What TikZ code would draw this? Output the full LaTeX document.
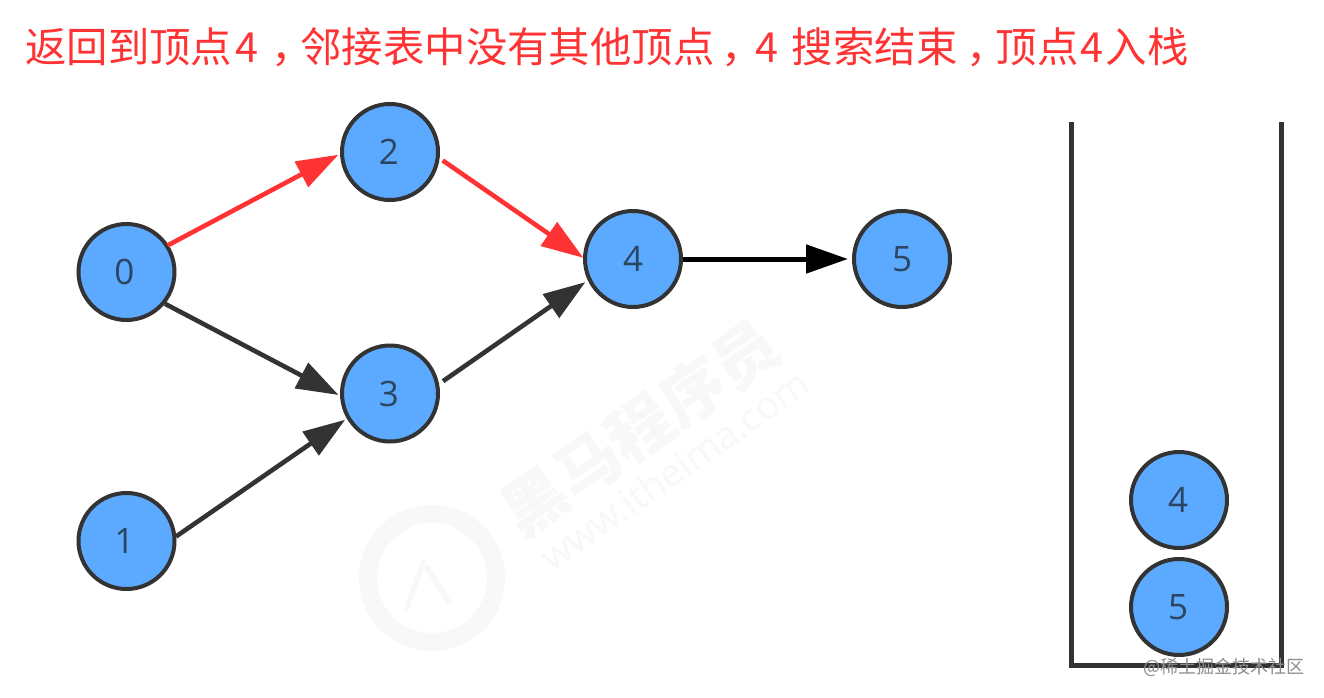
\documentclass[tikz,border=0pt]{standalone}
\usepackage{fontspec}
\setmainfont{Open Sans}
\newfontfamily\cjk{Noto Sans CJK SC}
\usetikzlibrary{arrows.meta}
\definecolor{nodeblue}{HTML}{5BAAFF}
\definecolor{digit}{HTML}{2C4560}
\definecolor{edgedark}{HTML}{333333}
\definecolor{edgered}{HTML}{FF3333}
\definecolor{wm}{HTML}{F8F8F8}
\tikzset{
  vertex/.style={circle,draw=edgedark,line width=4pt,fill=nodeblue,minimum size=96pt,inner sep=0pt,outer sep=0pt,text=digit,font=\fontsize{35}{35}\selectfont},
  edgeline/.style={line width=4.6pt,draw=edgedark,-{Triangle[length=42pt,width=28pt]}},
  rededge/.style={edgeline,draw=edgered},
  blackedge/.style={edgeline,draw=black,line width=5pt},
  stackwall/.style={line width=5pt,draw=edgedark,line cap=rect},
  titletext/.style={anchor=west,inner sep=0pt,text=edgered,font=\cjk\fontsize{41.4}{42}\selectfont},
  watermark/.style={inner sep=0pt,text=wm,rotate=35},
  credit/.style={anchor=west,inner sep=0pt,text=black!45,font=\cjk\fontsize{18}{18}\selectfont}
}
\begin{document}
\begin{tikzpicture}[x=1pt,y=-1pt]
\useasboundingbox (0,0) rectangle (1324,698);
\fill[white] (0,0) rectangle (1324,698);
% watermark
\node[watermark,font=\cjk\bfseries\fontsize{64}{64}\selectfont] (wmcn) at (640,428) {黑马程序员};
\node[watermark,font=\fontsize{38}{38}\selectfont] (wmurl) at (674,470) {www.itheima.com};
\node[circle,draw=wm,line width=18pt,minimum size=128pt,inner sep=0pt] (wmlogo) at (432,578) {};
\draw[wm,line width=5pt] (wmlogo.center) ++(-8,-18) -- ++(-18,50);
\draw[wm,line width=5pt] (wmlogo.center) ++(-6,-12) -- ++(24,38);
% title
\node[titletext] (title) at (25,47) {返回到顶点\hspace{3pt}4\hspace{13pt}，\hspace{-12pt}邻接表中没有其他顶点\hspace{7pt}，\hspace{-7pt}4\hspace{13pt}搜索结束\hspace{9pt}，\hspace{-12pt}顶点\hspace{2pt}4\hspace{2pt}入栈};
% graph
\node[vertex] (n0) at (126.5,272) {\hspace{-4pt}0};
\node[vertex] (n1) at (126.5,541) {\hspace{-4pt}1};
\node[vertex] (n2) at (390,152) {\hspace{-2pt}2};
\node[vertex] (n3) at (390,393.5) {\hspace{-2pt}3};
\node[vertex] (n4) at (633,259) {4};
\node[vertex] (n5) at (902,259) {5};
\draw[rededge,shorten <=1pt,shorten >=4pt] (n0.33.7) -- (n2.181);
\draw[rededge,shorten <=6pt,shorten >=2pt] (n2.-6) -- (n4.180);
\draw[edgeline,shorten <=2pt,shorten >=4pt] (n0.-40.6) -- (n3.184);
\draw[edgeline,shorten <=2pt,shorten >=4pt] (n1.4.6) -- (n3.210.5);
\draw[edgeline,shorten <=7pt,shorten >=5pt] (n3.10) -- (n4.205.6);
\draw[blackedge,shorten <=2pt,shorten >=6pt] (n4.0) -- (n5.180);
% stack
\coordinate (stl) at (1071,125);
\coordinate (sbl) at (1071,665.5);
\coordinate (sbr) at (1281.5,665.5);
\coordinate (str) at (1281.5,125);
\draw[stackwall] (stl) -- (sbl) -- (sbr) -- (str);
\node[vertex] (s4) at (1179,500) {\hspace{-2pt}4};
\node[vertex] (s5) at (1179,607) {\hspace{-2pt}5};
\node[credit] (credit) at (1143,667) {@稀土掘金技术社区};
\end{tikzpicture}
\end{document}
